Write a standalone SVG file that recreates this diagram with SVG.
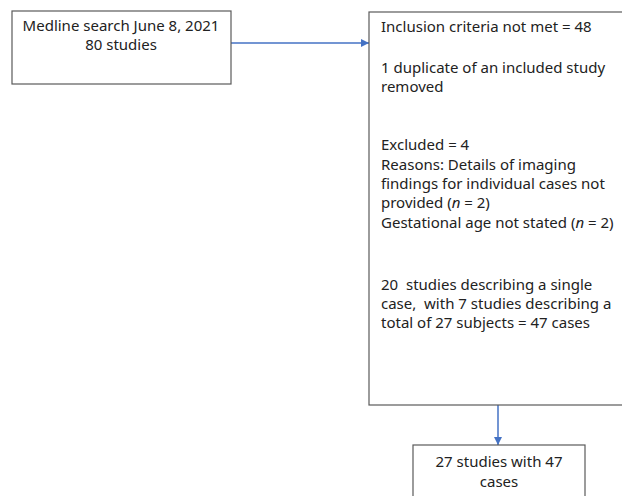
<svg xmlns="http://www.w3.org/2000/svg" width="622" height="496" viewBox="0 0 622 496">
<defs>
<style>
.box{fill:#fff;stroke:#5a5a5a;stroke-width:1.2}
.t{font-family:"Noto Sans","DejaVu Sans",sans-serif;font-size:15px;fill:#222}
.c{text-anchor:middle}
.con{stroke:#4472c4;stroke-width:1.5;fill:none}
</style>
<marker id="ah" viewBox="0 0 10 10" refX="10" refY="5" markerWidth="8" markerHeight="8" markerUnits="userSpaceOnUse" orient="auto">
<path d="M0,0 L10,5 L0,10 z" fill="#4472c4"/>
</marker>
</defs>
<rect width="622" height="496" fill="#fff"/>
<g id="connectors">
<line class="con" x1="231" y1="43" x2="369" y2="43" marker-end="url(#ah)"/>
<line class="con" x1="498" y1="405" x2="498" y2="445" marker-end="url(#ah)"/>
</g>
<g id="node-search">
<rect class="box" x="12" y="11" width="219" height="73"/>
<text class="t c" x="121" y="31">Medline search June 8, 2021</text>
<text class="t c" x="121" y="50">80 studies</text>
</g>
<g id="node-exclusions">
<rect class="box" x="369" y="12" width="260" height="393"/>
<text class="t" x="381" y="32">Inclusion criteria not met = 48</text>
<text class="t" x="381" y="73">1 duplicate of an included study</text>
<text class="t" x="381" y="92">removed</text>
<text class="t" x="381" y="150">Excluded = 4</text>
<text class="t" x="381" y="170">Reasons: Details of imaging</text>
<text class="t" x="381" y="189">findings for individual cases not</text>
<text class="t" x="381" y="208">provided (<tspan font-style="italic">n</tspan> = 2)</text>
<text class="t" x="381" y="228">Gestational age not stated (<tspan font-style="italic">n</tspan> = 2)</text>
<text class="t" x="381" y="290" xml:space="preserve">20  studies describing a single</text>
<text class="t" x="381" y="309" xml:space="preserve">case,  with 7 studies describing a</text>
<text class="t" x="381" y="328">total of 27 subjects = 47 cases</text>
</g>
<g id="node-included">
<rect class="box" x="413" y="445" width="172" height="60"/>
<text class="t c" x="499" y="467">27 studies with 47</text>
<text class="t c" x="499" y="487">cases</text>
</g>
</svg>
